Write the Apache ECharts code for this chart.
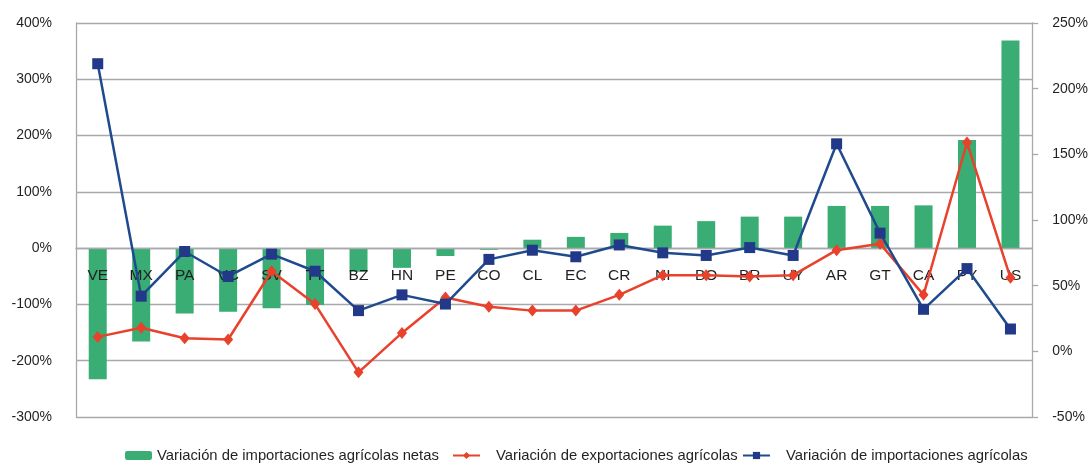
<!DOCTYPE html>
<html>
<head>
<meta charset="utf-8">
<script src="https://cdn.jsdelivr.net/npm/echarts@6/dist/echarts.min.js"></script>
<style>
  html, body { margin: 0; padding: 0; background: #fff; }
  #chart { width: 1091px; height: 466px; }
</style>
</head>
<body>
<div id="chart"></div>
<script>
// paises
const countries = ['VE', 'MX', 'PA', 'VC', 'SV', 'TT', 'BZ', 'HN', 'PE', 'CO', 'CL',
  'EC', 'CR', 'NI', 'BO', 'BR', 'UY', 'AR', 'GT', 'CA', 'PY', 'US'];

// eje izquierdo (%)
const netImports = [-233, -166, -116, -113, -107, -101, -42, -35, -14, -3, 15,
  20, 27, 40, 48, 56, 56, 75, 75, 76, 192, 369];

// eje derecho (%)
const exportsVar = [11, 18, 10, 9, 61, 36, -16, 14, 41, 34, 31,
  31, 43, 58, 58, 57, 58, 77, 82, 43, 159, 56];
const importsVar = [219, 42, 76, 57, 74, 61, 31, 43, 36, 70, 77,
  72, 81, 75, 73, 79, 73, 158, 90, 32, 63, 17];

const names = [
  'Variación de importaciones agrícolas netas',
  'Variación de exportaciones agrícolas',
  'Variación de importaciones agrícolas'
];

const font = '"Liberation Sans", Arial, sans-serif';
const textColor = '#231f20';
const gridColor = '#a7a9ac';

const gridTop = 23;
const gridBottom = 49;
const plotH = 466 - gridTop - gridBottom;
// mover el eje de categorias hasta el 0% del eje izquierdo (-300..400)
const zeroOffset = -plotH * 300 / 700;

const chart = echarts.init(document.getElementById('chart'));

const legendBase = {
  top: 448,
  padding: 0,
  itemWidth: 27,
  itemHeight: 9,
  textStyle: { fontFamily: font, fontSize: 14.8, color: textColor }
};

const option = {
  animation: false,
  backgroundColor: '#fff',
  legend: [
    Object.assign({}, legendBase, { left: 125, data: [names[0]] }),
    Object.assign({}, legendBase, { left: 452, data: [names[1]],
      textStyle: Object.assign({}, legendBase.textStyle, { padding: [0, 0, 0, 11] }) }),
    Object.assign({}, legendBase, { left: 742, data: [names[2]],
      textStyle: Object.assign({}, legendBase.textStyle, { padding: [0, 0, 0, 11] }) })
  ],
  grid: { left: 76, right: 58, top: gridTop, bottom: gridBottom, containLabel: false },
  xAxis: {
    type: 'category',
    data: countries,
    z: 2,
    position: 'bottom',
    offset: zeroOffset,
    axisLine: { show: true, onZero: false, lineStyle: { color: gridColor, width: 1.3 } },
    axisTick: { show: false },
    axisLabel: { fontFamily: font, fontSize: 15.5, color: textColor, margin: 20, interval: 0 }
  },
  yAxis: [
    {
      type: 'value',
      min: -300,
      max: 400,
      interval: 100,
      axisLine: { show: true, lineStyle: { color: gridColor, width: 1.3 } },
      axisTick: { show: false },
      axisLabel: { fontFamily: font, fontSize: 14, color: textColor, margin: 24,
        formatter: '{value}%' },
      splitLine: { show: true, lineStyle: { color: gridColor, width: 1.3 } }
    },
    {
      type: 'value',
      min: -50,
      max: 250,
      interval: 50,
      position: 'right',
      axisLine: { show: true, lineStyle: { color: gridColor, width: 1.3 } },
      axisTick: { show: true, length: 6, lineStyle: { color: gridColor, width: 1.3 } },
      axisLabel: { fontFamily: font, fontSize: 14, color: textColor, margin: 20,
        formatter: '{value}%' },
      splitLine: { show: false }
    }
  ],
  series: [
    {
      name: names[0],
      type: 'bar',
      yAxisIndex: 0,
      data: netImports,
      barWidth: 18,
      z: 1,
      itemStyle: { color: '#39ad73' }
    },
    {
      name: names[1],
      type: 'line',
      yAxisIndex: 1,
      data: exportsVar,
      z: 3,
      symbol: 'diamond',
      symbolSize: [10, 12],
      lineStyle: { color: '#e8412c', width: 2.5 },
      itemStyle: { color: '#e8412c' }
    },
    {
      name: names[2],
      type: 'line',
      yAxisIndex: 1,
      data: importsVar,
      z: 4,
      symbol: 'rect',
      symbolSize: 11,
      lineStyle: { color: '#1f4b8e', width: 2.5 },
      itemStyle: { color: '#22398a' }
    }
  ]
};

chart.setOption(option);
</script>
</body>
</html>
